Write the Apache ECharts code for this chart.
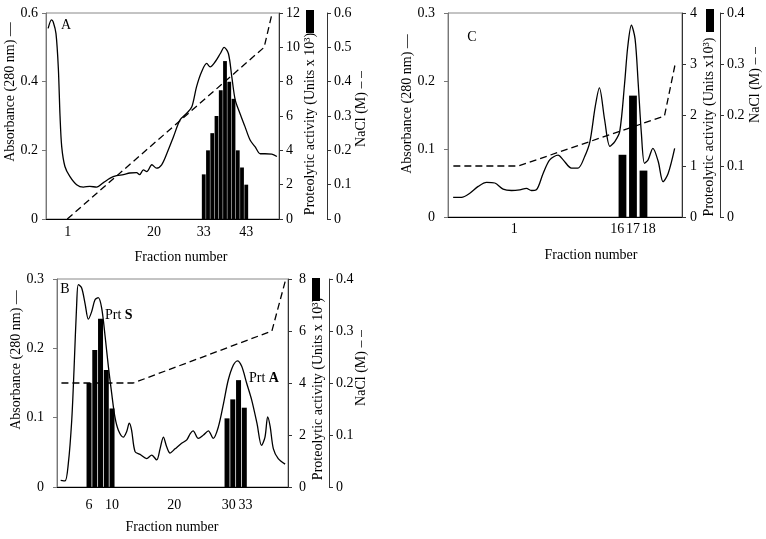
<!DOCTYPE html>
<html>
<head>
<meta charset="utf-8">
<script src="https://cdn.jsdelivr.net/npm/echarts@6/dist/echarts.min.js"></script>
<style>
  html, body { margin: 0; padding: 0; background: #fff; }
  #chart { width: 766px; height: 539px; }
</style>
</head>
<body>
<div id="chart"></div>
<script>
// ---- panel A ----
const absA = [
  [-3.6, 0.555], [-2.8, 0.58], [-2.4, 0.574], [-1.75, 0.54], [-1.2, 0.44], [-0.8, 0.30],
  [-0.4, 0.21], [0.35, 0.153], [1.5, 0.124], [3.1, 0.10], [4.7, 0.093], [6.2, 0.095],
  [7.8, 0.093], [9.4, 0.106], [11, 0.119], [12.5, 0.126], [14.1, 0.129], [15.6, 0.134],
  [17.2, 0.135], [17.9, 0.129], [18.8, 0.143], [19.6, 0.138], [20.8, 0.158], [21.9, 0.148],
  [23.1, 0.158], [24.3, 0.19], [25.9, 0.24], [27.4, 0.288], [29, 0.308], [30.2, 0.327],
  [31.3, 0.385], [32.5, 0.429], [33.7, 0.453], [34.5, 0.443], [35.7, 0.458], [36.9, 0.482],
  [37.8, 0.50], [38.8, 0.482], [39.6, 0.414], [40.4, 0.347], [41.5, 0.308], [42.7, 0.269],
  [43.9, 0.23], [45.1, 0.21], [46.3, 0.19], [47.4, 0.19], [49, 0.189], [50.2, 0.182]
];
const naclA = [[0.9, 0], [47.2, 0.5], [49, 0.595]];
const fracA = [33, 34, 35, 36, 37, 38, 39, 40, 41, 42, 43];
const activityA = [2.6, 4, 5, 6, 7.5, 9.2, 8, 7, 4, 3, 2];
const tickAtA = [1, 21.3, 33, 43];
const tickTextA = ['1', '20', '33', '43'];

// ---- panel B ----
const absB = [
  [1.07, 0.0096], [1.83, 0.0087], [2.4, 0.034], [2.99, 0.096], [3.39, 0.169], [3.86, 0.265],
  [4.14, 0.292], [4.72, 0.287], [5.3, 0.265], [5.88, 0.242], [6.46, 0.253], [7.04, 0.27],
  [7.6, 0.273], [8.2, 0.258], [8.8, 0.217], [9.36, 0.174], [9.94, 0.135], [10.5, 0.101],
  [11.1, 0.082], [11.97, 0.072], [12.55, 0.08], [13.0, 0.092], [13.4, 0.082], [14.0, 0.051],
  [14.87, 0.047], [16.03, 0.041], [16.9, 0.046], [17.77, 0.039], [18.35, 0.055], [18.93, 0.072],
  [19.5, 0.058], [20.09, 0.049], [20.96, 0.055], [22.1, 0.063], [23.0, 0.068], [23.6, 0.077],
  [24.1, 0.081], [25.0, 0.07], [25.9, 0.075], [26.75, 0.081], [27.6, 0.07], [28.5, 0.087],
  [29.4, 0.121], [30.2, 0.154], [31.1, 0.176], [31.8, 0.182], [32.55, 0.174], [33.4, 0.15],
  [34.3, 0.125], [35.2, 0.092], [36.0, 0.06], [36.6, 0.072], [37.07, 0.101], [37.5, 0.087],
  [38.06, 0.055], [38.9, 0.041], [40.1, 0.033]
];
const naclB = [[1.2, 0.2], [13.7, 0.2], [37.8, 0.30], [40.1, 0.395]];
const fracBS = [6, 7, 8, 9, 10];
const activityBS = [4.0, 5.27, 6.47, 4.5, 3.02];
const fracBA = [30, 31, 32, 33];
const activityBA = [2.64, 3.37, 4.11, 3.05];
const tickAtB = [6, 10, 20.8, 30.3, 33.2];
const tickTextB = ['6', '10', '20', '30', '33'];

// ---- panel C ----
const absC = [
  [-0.13, 0.029], [0.67, 0.029], [1.46, 0.035], [2.26, 0.045], [3.05, 0.051], [3.84, 0.05],
  [4.63, 0.041], [5.43, 0.039], [6.22, 0.04], [6.85, 0.042], [7.33, 0.039], [7.8, 0.04],
  [8.44, 0.064], [9.07, 0.084], [9.87, 0.091], [10.35, 0.084], [11.14, 0.072], [11.77, 0.072],
  [12.4, 0.089], [12.9, 0.111], [13.4, 0.162], [13.8, 0.19], [14.3, 0.143], [14.8, 0.104],
  [15.27, 0.111], [15.74, 0.126], [16.2, 0.196], [16.5, 0.25], [16.85, 0.282], [17.2, 0.262],
  [17.5, 0.196], [17.8, 0.123], [18.1, 0.079], [18.44, 0.084], [18.9, 0.101], [19.4, 0.082],
  [19.87, 0.052], [20.35, 0.064], [20.97, 0.101]
];
const naclC = [[-0.11, 0.1], [6.08, 0.1], [20.0, 0.198], [21.05, 0.303]];
const fracC = [16, 17, 18];
const activityC = [1.22, 2.38, 0.91];
const tickAtC = [5.7, 15.5, 17, 18.5];
const tickTextC = ['1', '16', '17', '18'];

const FONT = '"Liberation Serif", "Times New Roman", serif';
const pairs = (xs, ys) => xs.map((x, i) => [x, ys[i]]);

function xAxisFor(grid, min, max, at, text, margin) {
  return {
    gridIndex: grid, type: 'value', min: min, max: max,
    axisLine: { show: true, onZero: false, lineStyle: { color: '#000', width: 1 } },
    axisTick: { show: false },
    splitLine: { show: false },
    axisLabel: {
      customValues: at,
      formatter: v => text[at.indexOf(v)],
      fontFamily: FONT, fontSize: 14, color: '#000', margin: margin
    }
  };
}

function yAxisFor(grid, pos, max, step, offset, margin, lineColor) {
  return {
    gridIndex: grid, type: 'value', position: pos, offset: offset,
    min: 0, max: max, interval: step,
    axisLine: { show: true, onZero: false, lineStyle: { color: lineColor, width: 1 } },
    axisTick: { show: true, inside: false, length: 4, lineStyle: { color: lineColor } },
    splitLine: { show: false },
    axisLabel: { fontFamily: FONT, fontSize: 14, color: '#000', margin: margin }
  };
}

function absLine(name, grid, yIdx, data) {
  return {
    name: name, type: 'line', xAxisIndex: grid, yAxisIndex: yIdx, data: data,
    showSymbol: false, smooth: 0.3, z: 4,
    lineStyle: { color: '#000', width: 1.3 }
  };
}
function saltLine(name, grid, yIdx, data) {
  return {
    name: name, type: 'line', xAxisIndex: grid, yAxisIndex: yIdx, data: data,
    showSymbol: false, z: 3,
    lineStyle: { color: '#000', width: 1.3, type: [7, 4] }
  };
}
function bars(name, grid, yIdx, data, w) {
  return {
    name: name, type: 'bar', xAxisIndex: grid, yAxisIndex: yIdx, data: data,
    barWidth: w, z: 2, itemStyle: { color: '#000' }
  };
}

function txt(x, y, text, rotate, extra) {
  return {
    type: 'text', x: x, y: y, rotation: rotate ? Math.PI / 2 : 0, z: 10,
    style: Object.assign({
      text: text, font: '14px ' + FONT, fill: '#000',
      align: 'center', verticalAlign: 'middle',
      textAlign: 'center', textVerticalAlign: 'middle'
    }, extra || {})
  };
}
const prtRich = {
  n: { fontFamily: FONT, fontSize: 14, color: '#000' },
  b: { fontFamily: FONT, fontSize: 14, color: '#000', fontWeight: 'bold' }
};

const legendBase = {
  orient: 'vertical', icon: 'rect', itemWidth: 8, itemHeight: 23, itemGap: 0,
  padding: 0, selectedMode: false, formatter: () => '', textStyle: { fontSize: 1 }
};

const chart = echarts.init(document.getElementById('chart'));
chart.setOption({
  backgroundColor: '#fff',
  animation: false,
  grid: [
    { left: 46, top: 13, width: 233, height: 206, show: true, borderColor: '#888', borderWidth: 1 },
    { left: 57, top: 279, width: 231, height: 208, show: true, borderColor: '#888', borderWidth: 1 },
    { left: 448, top: 13, width: 234, height: 204, show: true, borderColor: '#888', borderWidth: 1 }
  ],
  xAxis: [
    xAxisFor(0, -4.1, 50.7, tickAtA, tickTextA, 6),
    xAxisFor(1, 0.43, 40.6, tickAtB, tickTextB, 11),
    xAxisFor(2, -0.62, 21.67, tickAtC, tickTextC, 5)
  ],
  yAxis: [
    yAxisFor(0, 'left', 0.6, 0.2, 0, 8, '#777'),
    yAxisFor(0, 'right', 12, 2, 0, 7, '#333'),
    yAxisFor(0, 'right', 0.6, 0.1, 48, 7, '#333'),
    yAxisFor(1, 'left', 0.3, 0.1, 0, 13, '#777'),
    yAxisFor(1, 'right', 8, 2, 0, 11, '#333'),
    yAxisFor(1, 'right', 0.4, 0.1, 41, 7, '#333'),
    yAxisFor(2, 'left', 0.3, 0.1, 0, 13, '#777'),
    yAxisFor(2, 'right', 4, 1, 0, 8, '#333'),
    yAxisFor(2, 'right', 0.4, 0.1, 38, 7, '#333')
  ],
  legend: [
    Object.assign({ data: ['Proteolytic A'], left: 306, top: 10 }, legendBase),
    Object.assign({ data: ['Proteolytic B'], left: 312, top: 278 }, legendBase),
    Object.assign({ data: ['Proteolytic C'], left: 706, top: 9 }, legendBase)
  ],
  series: [
    bars('Proteolytic A', 0, 1, pairs(fracA, activityA), 3.8),
    absLine('Absorbance A', 0, 0, absA),
    saltLine('NaCl A', 0, 2, naclA),

    bars('Proteolytic B', 1, 4, pairs(fracBS.concat(fracBA), activityBS.concat(activityBA)), 5),
    absLine('Absorbance B', 1, 3, absB),
    saltLine('NaCl B', 1, 5, naclB),

    bars('Proteolytic C', 2, 7, pairs(fracC, activityC), 7.8),
    absLine('Absorbance C', 2, 6, absC),
    saltLine('NaCl C', 2, 8, naclC)
  ],
  graphic: [
    txt(66, 25, 'A'),
    txt(65, 289, 'B'),
    txt(472, 37, 'C'),

    txt(10, 92, 'Absorbance (280 nm) \u2014', true),
    txt(310, 124, 'Proteolytic activity (Units x 10\u00b3)', true),
    txt(361, 109, 'NaCl (M) \u2013 \u2013', true),

    txt(16, 360, 'Absorbance (280 nm) \u2014', true),
    txt(318, 389, 'Proteolytic activity (Units x 10\u00b3)', true),
    txt(361, 368, 'NaCl (M) \u2013 \u2013', true),

    txt(407, 104, 'Absorbance (280 nm) \u2014', true),
    txt(709, 127, 'Proteolytic activity (Units x10\u00b3)', true),
    txt(755, 85, 'NaCl (M) \u2013 \u2013', true),

    txt(181, 257, 'Fraction number'),
    txt(172, 527, 'Fraction number'),
    txt(591, 255, 'Fraction number'),

    txt(105, 315, '{n|Prt }{b|S}', false, { rich: prtRich, align: 'left', textAlign: 'left' }),
    txt(249, 378, '{n|Prt }{b|A}', false, { rich: prtRich, align: 'left', textAlign: 'left' })
  ]
});
</script>
</body>
</html>
